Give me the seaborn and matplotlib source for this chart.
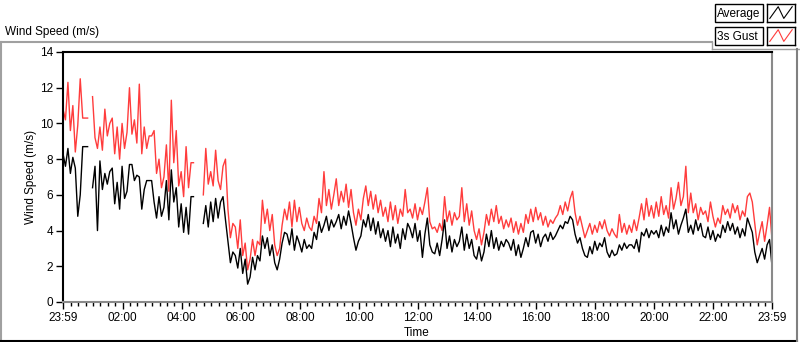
import numpy as np
import pandas as pd
import matplotlib.pyplot as plt
import seaborn as sns
from matplotlib.lines import Line2D
from matplotlib.patches import Rectangle
from matplotlib.ticker import FixedLocator

nan = np.nan

# 5-minute samples from 23:59 to 23:59, NaN = missing data
avg = [8.3, 7.6, 8.6, 7.2, 8.1, 7.5, 4.8, 6.0, 8.7, 8.7, 8.7,
       nan,
       6.4, 7.6, 4.0, 7.9, 6.3, 7.2, 6.6, 7.3, 7.5,
       5.5, 6.7, 5.2, 7.6, 5.8, 6.2, 7.7, 7.7, 6.8, 7.1,
       7.0, 5.2, 6.3, 6.8, 6.8, 6.8, 5.6, 4.7, 5.9, 4.8,
       5.3, 6.8, 4.6, 7.4, 5.6, 6.4, 4.2, 5.5, 3.9, 5.3, 3.8, 5.9, 5.9,
       nan, nan, nan,
       4.4, 5.4, 4.2, 5.6, 4.5, 5.8, 4.7, 5.6, 5.9, 4.6, 3.4, 2.2, 2.8, 2.6,
       1.9, 3.0, 1.6, 2.4, 1.0, 1.4, 2.5, 1.8, 2.6, 2.3,
       3.7, 3.0, 3.6, 2.6, 3.2, 2.2, 1.8, 2.4, 3.3, 3.9,
       3.8, 3.2, 4.1, 2.9, 3.7, 3.3, 2.8, 3.5, 3.0, 3.2,
       3.0, 3.9, 3.5, 4.5, 3.9, 4.3, 4.8, 4.0, 4.6, 4.2,
       4.5, 4.9, 4.1, 4.8, 4.3, 5.1, 4.4, 3.6, 2.9, 3.4,
       3.7, 4.6, 4.2, 4.9, 4.0, 4.7, 3.8, 4.5, 3.6, 4.1,
       3.4, 4.0, 3.1, 4.2, 3.3, 3.8, 3.0, 4.1, 3.5, 4.4,
       4.1, 3.6, 4.4, 3.4, 4.0, 2.5, 3.8, 4.7, 3.2, 2.8,
       2.7, 3.3, 2.6, 3.5, 4.6, 3.0, 3.7, 2.8, 3.5, 3.1,
       3.4, 4.2, 2.9, 3.8, 3.0, 3.5, 2.6, 2.4, 3.1, 2.3,
       2.8, 3.8, 3.1, 4.0, 3.0, 3.6, 2.9, 3.4, 3.1, 3.5,
       3.3, 2.9, 3.5, 2.6, 3.2, 2.5, 3.0, 3.6, 3.1, 3.9,
       4.0, 3.3, 3.8, 3.1, 3.6, 3.8, 3.4, 3.9, 3.5, 3.7,
       4.0, 4.3, 4.1, 4.5, 4.4, 4.8, 4.6, 3.8, 3.3, 3.6,
       3.0, 2.6, 2.5, 3.1, 2.7, 3.4, 2.9, 3.3, 3.1, 3.6,
       2.8, 2.5, 2.9, 2.6, 2.7, 3.2, 2.9, 3.3, 3.0, 3.2,
       3.2, 3.0, 3.5, 2.8, 3.9, 3.7, 4.1, 3.6, 4.0, 3.8,
       4.0, 3.6, 4.3, 3.7, 4.2, 3.9, 5.0, 4.1, 4.6, 3.8,
       4.3, 4.7, 5.2, 3.9, 4.3, 3.8, 4.6, 4.0, 4.4, 3.7,
       3.6, 4.2, 3.5, 4.0, 3.4, 3.8, 3.6, 4.3, 3.9, 4.5,
       4.0, 4.4, 3.8, 4.2, 3.6, 4.1, 3.7, 4.7, 4.3, 3.9,
       2.8, 2.2, 2.6, 3.0, 2.4, 3.2, 3.5, 2.0]

gust = [10.8, 10.2, 12.3, 9.6, 11.0, 8.4, 9.9, 12.5, 10.3, 10.3, 10.3,
        nan,
        11.5, 9.2, 8.6, 9.8, 8.5, 10.8, 9.3, 10.0, 10.3,
        8.3, 9.8, 8.0, 10.0, 8.6, 9.5, 12.0, 9.4, 10.2, 8.9,
        12.2, 8.3, 9.8, 8.6, 9.3, 9.3, 9.6, 7.2, 8.0, 6.4,
        7.0, 8.8, 6.2, 11.3, 7.8, 9.6, 6.5, 7.3, 5.9, 8.7, 6.4, 7.8, 7.8,
        nan, nan, nan,
        6.0, 8.6, 6.6, 7.3, 6.5, 8.5, 6.8, 6.3, 7.6, 8.0, 5.2, 3.6, 4.4, 4.2,
        3.0, 4.6, 2.6, 3.3, 1.8, 2.4, 3.5, 2.6, 3.4, 3.2,
        5.7, 4.4, 5.2, 4.0, 4.9, 3.2, 2.6, 3.0, 4.3, 5.2,
        4.6, 5.6, 4.2, 5.7, 4.5, 5.3, 4.4, 4.0, 4.7, 4.2,
        4.0, 4.8, 4.4, 5.8, 5.0, 7.3, 5.4, 6.3, 5.2, 6.0,
        6.9, 5.4, 6.2, 5.6, 6.6, 5.3, 6.3, 5.0, 4.3, 5.2,
        4.6, 5.8, 6.5, 5.4, 6.2, 5.2, 6.0, 5.0, 5.7, 4.8,
        5.3, 4.5, 5.6, 4.6, 5.4, 4.4, 5.2, 4.8, 6.3, 5.0,
        5.2, 4.7, 5.5, 4.6, 5.3, 4.9, 5.6, 6.4, 4.5, 4.1,
        4.2, 3.9, 4.4, 4.0, 5.9, 4.5, 5.1, 4.3, 5.0, 4.6,
        4.8, 6.4, 4.5, 5.5, 4.3, 5.1, 4.0, 3.5, 4.1, 3.2,
        3.9, 4.9, 4.3, 5.2, 4.5, 5.4, 4.4, 4.8, 4.1, 4.6,
        4.2, 4.7, 3.9, 4.5, 3.8, 4.4, 3.9, 4.9, 4.4, 5.2,
        4.5, 5.3, 4.6, 5.0, 4.3, 4.8, 4.2, 4.6, 4.4, 4.7,
        4.9, 5.4, 4.9, 5.6, 5.1, 5.8, 6.2, 5.0, 4.3, 4.8,
        4.2, 3.6, 4.0, 4.4, 3.8, 4.3, 3.9, 4.5, 4.1, 4.6,
        4.0, 3.7, 4.1, 3.8, 3.6, 4.9, 3.9, 4.4, 3.8, 4.3,
        3.9, 4.6, 4.0, 4.7, 5.5, 4.6, 5.8, 4.8, 5.4, 4.7,
        5.6, 4.8, 5.9, 4.9, 5.4, 4.7, 6.4, 5.2, 5.8, 6.7,
        5.4, 5.9, 7.6, 5.0, 6.1, 5.0, 5.5, 4.6, 5.3, 4.9,
        5.1, 4.5, 5.6, 4.8, 4.2, 4.7, 4.4, 5.4, 4.9, 5.2,
        4.7, 5.5, 5.0, 5.4, 4.6, 5.1, 4.8, 5.9, 6.1, 5.6,
        4.4, 3.2, 3.9, 4.5, 3.4, 4.3, 5.3, 3.5]

tick_labels = ['23:59', '02:00', '04:00', '06:00', '08:00', '10:00', '12:00',
               '14:00', '16:00', '18:00', '20:00', '22:00', '23:59']
# minutes after 23:59
tick_pos = [0, 121, 241, 361, 481, 601, 721, 841, 961, 1081, 1201, 1321, 1440]

df = pd.DataFrame({'minutes': np.linspace(0, 1440, len(avg)),
                   'avg': avg, 'gust': gust})
df['seg'] = df['avg'].isna().cumsum()
df = df.dropna()

plt.rcParams['font.family'] = ['Liberation Sans', 'DejaVu Sans']
fig = plt.figure(figsize=(8, 3.42), dpi=100)
ax = fig.add_axes([63 / 800, 1 - 302 / 342, 709 / 800, 250 / 342])

sns.lineplot(data=df, x='minutes', y='gust', units='seg', estimator=None,
             color='#ff3c3c', lw=1, ax=ax)
sns.lineplot(data=df, x='minutes', y='avg', units='seg', estimator=None,
             color='black', lw=1, ax=ax)

ax.set_xlim(0, 1440)
ax.set_ylim(0, 14)
ax.set_yticks(range(0, 15, 2))
ax.xaxis.set_major_locator(FixedLocator(tick_pos))
ax.set_xticklabels(tick_labels)
ax.xaxis.set_minor_locator(FixedLocator([m for m in range(16, 1440, 15)
                                         if (m - 1) % 120 != 0]))
ax.tick_params(axis='x', which='major', length=5, width=1, labelsize=8.5, pad=2)
ax.tick_params(axis='x', which='minor', length=3, width=1)
ax.tick_params(axis='y', length=5, width=1, labelsize=8.5, pad=2)

ax.set_xlabel('Time', fontsize=8.5, va='center')
ax.set_ylabel('Wind Speed (m/s)', fontsize=8.5)
ax.xaxis.set_label_coords(0.499, -0.124)
ax.yaxis.set_label_coords(-0.036, 0.5)

for s in ['left', 'top']:
    ax.spines[s].set_color('black')
    ax.spines[s].set_linewidth(1.5)
for s in ['right', 'bottom']:
    ax.spines[s].set_color('#8a8a8a')
    ax.spines[s].set_linewidth(1.5)

# outer frame of the graph panel
fig.add_artist(Line2D([0, 712 / 800], [1 - 42 / 342] * 2, color='#a0a0a0', lw=1.5))
fig.add_artist(Line2D([712 / 800, 712 / 800], [1 - 42 / 342, 1 - 49 / 342], color='#a0a0a0', lw=1))
fig.add_artist(Line2D([712 / 800, 1], [1 - 49 / 342] * 2, color='#a0a0a0', lw=1))
fig.add_artist(Line2D([1 / 800, 1 / 800], [0, 1 - 42 / 342], color='#a0a0a0', lw=1.5))
fig.add_artist(Line2D([0, 797 / 800], [0.6 / 342] * 2, color='black', lw=1.5))
fig.add_artist(Line2D([797 / 800, 797 / 800], [0, 1 - 49 / 342], color='#808080', lw=1.5))

fig.text(5 / 800, 1 - 32 / 342, 'Wind Speed (m/s)', fontsize=8.5, va='center')

# legend: label boxes and line glyphs
for i, (name, col) in enumerate([('Average', 'black'), ('3s Gust', '#ff3c3c')]):
    top = 4 + i * 23
    fig.add_artist(Rectangle((715 / 800, 1 - (top + 18) / 342), 48 / 800, 18 / 342,
                             transform=fig.transFigure, fc='white', ec='black', lw=1))
    fig.text(717 / 800, 1 - (top + 9.5) / 342, name, fontsize=8.5, ha='left', va='center')
    ia = fig.add_axes([767 / 800, 1 - (top + 18) / 342, 28 / 800, 18 / 342])
    ia.plot([0.1, 0.4, 0.6, 0.9], [0.2, 0.85, 0.2, 0.85], color=col, lw=0.8)
    ia.set_xlim(0, 1)
    ia.set_ylim(0, 1)
    ia.set_xticks([])
    ia.set_yticks([])
    for s in ia.spines.values():
        s.set_linewidth(1)

fig.savefig('out.png', dpi=100)
